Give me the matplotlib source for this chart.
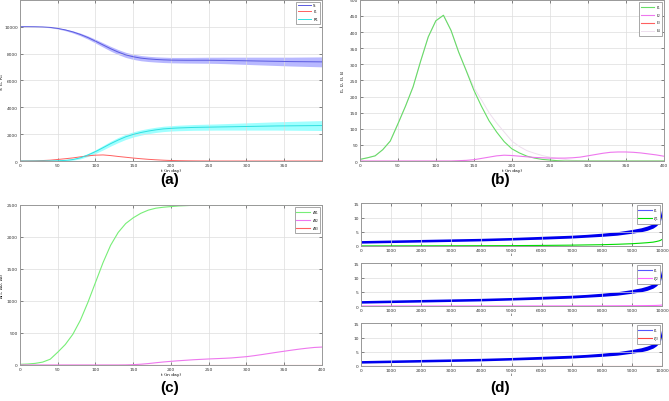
import numpy as np
import matplotlib.pyplot as plt
from matplotlib.lines import Line2D

# ---- panel (a): S, I, R with bands (t every 10 days) ----
t_a = list(range(0, 401, 10))
S_mean = [10000, 10000, 9995, 9980, 9945, 9870, 9760, 9610, 9420, 9190,
          8920, 8640, 8360, 8110, 7900, 7760, 7660, 7600, 7560, 7530,
          7510, 7505, 7500, 7500, 7500, 7500, 7495, 7490, 7480, 7470,
          7460, 7450, 7440, 7430, 7420, 7410, 7400, 7395, 7390, 7385, 7380]
S_half = [0, 5, 10, 15, 25, 40, 60, 80, 100, 120,
          140, 160, 175, 185, 190, 195, 195, 195, 195, 200,
          200, 205, 210, 215, 220, 225, 230, 240, 250, 260,
          270, 280, 290, 300, 310, 320, 330, 340, 350, 360, 370]
I_mean = [5, 10, 16, 35, 62, 115, 170, 230, 310, 385,
          435, 452, 405, 338, 280, 220, 170, 125, 90, 60,
          38, 25, 15, 9, 5, 3, 1, 0, 0, 0,
          0, 0, 0, 0, 0, 0, 0, 0, 0, 0, 0]
R_mean = [0, 0, 2, 5, 10, 20, 45, 110, 240, 450,
          700, 990, 1290, 1560, 1800, 1980, 2120, 2230, 2320, 2390,
          2430, 2460, 2480, 2500, 2510, 2520, 2530, 2540, 2550, 2560,
          2570, 2580, 2590, 2600, 2610, 2615, 2620, 2625, 2630, 2635, 2640]
R_half = [0, 0, 2, 4, 8, 15, 30, 50, 80, 110,
          140, 165, 180, 190, 195, 195, 195, 195, 195, 200,
          200, 205, 210, 215, 220, 225, 230, 240, 250, 260,
          270, 280, 290, 300, 310, 320, 330, 340, 350, 360, 370]

# ---- panel (b): I1..I4 ----
I1 = I_mean
I2 = [0, 0, 0, 0, 0, 0, 0, 0, 0, 0,
      0, 0, 0, 1, 2, 4, 8, 12, 16, 18,
      17, 15, 13, 11, 10, 9, 9, 9, 10, 12,
      16, 20, 24, 27, 28, 28, 27, 25, 22, 19, 15]
I3 = [0] * 41
I4 = [5, 10, 16, 35, 62, 115, 170, 230, 310, 385,
      435, 452, 405, 338, 282, 228, 190, 150, 118, 90,
      62, 45, 32, 24, 17, 12, 8, 5, 2, 1,
      0, 0, 0, 0, 0, 0, 0, 0, 0, 0, 0]

# ---- panel (c): cumulative dI1..dI3 ----
dI1 = [10, 15, 25, 45, 90, 200, 320, 480, 700, 980,
       1290, 1600, 1870, 2070, 2210, 2300, 2370, 2420, 2450, 2465,
       2475, 2485, 2490, 2495, 2498, 2500, 2500, 2500, 2500, 2500,
       2500, 2500, 2500, 2500, 2500, 2500, 2500, 2500, 2500, 2500, 2500]
dI2 = [0, 0, 0, 0, 0, 0, 0, 0, 0, 0,
       0, 0, 0, 0, 1, 5, 12, 22, 35, 47,
       57, 66, 74, 82, 88, 94, 99, 104, 110, 120,
       130, 145, 162, 180, 198, 215, 232, 248, 262, 274, 280]
dI3 = [0] * 41

# ---- panel (d): noisy I envelope and second series ----
i_d = [0, 1000, 2000, 3000, 4000, 5000, 6000, 7000, 7500, 8000,
       8500, 9000, 9300, 9500, 9700, 9800, 9900, 9950, 10000]
I_low = [1.0, 1.2, 1.4, 1.6, 1.8, 2.1, 2.4, 2.8, 3.1, 3.4,
         3.8, 4.5, 5.0, 5.5, 6.3, 7.0, 8.0, 9.0, 11.0]
I_high = [1.9, 2.1, 2.3, 2.5, 2.7, 3.0, 3.4, 3.8, 4.1, 4.5,
          5.0, 5.8, 6.4, 7.0, 7.8, 8.6, 9.8, 11.0, 13.5]
xi1 = [0.02, 0.03, 0.05, 0.07, 0.1, 0.13, 0.2, 0.3, 0.38, 0.45,
       0.6, 0.8, 1.0, 1.15, 1.35, 1.55, 1.8, 2.0, 2.3]
xi2 = [0, 0, 0, 0, 0.01, 0.01, 0.02, 0.03, 0.04, 0.05,
       0.07, 0.1, 0.13, 0.15, 0.18, 0.2, 0.25, 0.28, 0.35]
xi3 = [0] * len(i_d)

TS = 3.2  # tiny tick font like the reference


def style(ax, xlim, ylim, xticks, yticks):
    ax.set_xlim(*xlim)
    ax.set_ylim(*ylim)
    ax.set_xticks(xticks)
    ax.set_yticks(yticks)
    ax.tick_params(direction='in', labelsize=TS, length=2, width=0.4,
                   pad=1.5, colors='#333333', top=True, right=True)
    ax.grid(True, color='#dddddd', lw=0.5)
    for sp in ax.spines.values():
        sp.set_color('#999999')
        sp.set_linewidth(0.7)


def leg(ax, handles=None, labels=None):
    kw = dict(loc='upper right', fontsize=2.8, handlelength=3.5,
              borderpad=0.3, labelspacing=0.1, fancybox=False,
              framealpha=1, handletextpad=0.4)
    if handles is None:
        lg = ax.legend(**kw)
    else:
        lg = ax.legend(handles, labels, **kw)
    lg.get_frame().set_edgecolor('#999999')
    lg.get_frame().set_linewidth(0.6)


def ylab(ax, s, x=-0.045):
    ax.set_ylabel(s, fontsize=TS)
    ax.yaxis.set_label_coords(x, 0.5)


fig = plt.figure(figsize=(6.69, 4.02), dpi=100)
fig.patch.set_facecolor('white')
t = np.array(t_a)

# (a)
ax = fig.add_axes([0.0299, 0.597, 0.4514, 0.401])
S_mean_a, S_half_a = np.array(S_mean), np.array(S_half)
R_mean_a, R_half_a = np.array(R_mean), np.array(R_half)
ax.fill_between(t, S_mean_a - S_half_a, S_mean_a + S_half_a, color='#b8b8ff', lw=0)
ax.fill_between(t, R_mean_a - R_half_a, R_mean_a + R_half_a, color='#a0ffff', lw=0)
ax.plot(t, S_mean, color='#5a5ae0', lw=0.7, label='S')
ax.plot(t, I_mean, color='#ff6060', lw=0.7, label='I$_1$')
ax.plot(t, R_mean, color='#30e0e0', lw=0.7, label='R$_1$')
style(ax, (0, 400), (0, 12000), range(0, 351, 50), range(0, 10001, 2000))
ax.set_xlabel('t (in day)', fontsize=TS, labelpad=1)
ylab(ax, 'S, I$_1$, R$_1$')
leg(ax)

# (b)
ax = fig.add_axes([0.538, 0.597, 0.454, 0.401])
ax.plot(t, I4, color='#eedeee', lw=0.7, label='I$_4$')
ax.plot(t, I1, color='#66dd66', lw=0.8, label='I$_1$')
ax.plot(t, I2, color='#ee77ee', lw=0.8, label='I$_2$')
ax.plot(t, I3, color='#ff6060', lw=0.8, label='I$_3$')
style(ax, (0, 400), (0, 500), range(0, 401, 50), range(0, 501, 50))
ax.set_xlabel('t (in day)', fontsize=TS, labelpad=1)
ylab(ax, 'I$_1$, I$_2$, I$_3$, I$_4$', -0.043)
h, l = ax.get_legend_handles_labels()
leg(ax, [h[1], h[2], h[3], h[0]], [l[1], l[2], l[3], l[0]])

# (c)
ax = fig.add_axes([0.0299, 0.0896, 0.4514, 0.398])
ax.plot(t, dI1, color='#77ee77', lw=0.8, label='$\\Delta$I$_1$')
ax.plot(t, dI2, color='#ee77ee', lw=0.8, label='$\\Delta$I$_2$')
ax.plot(t, dI3, color='#ff6060', lw=0.8, label='$\\Delta$I$_3$')
style(ax, (0, 400), (0, 2500), range(0, 401, 50), range(0, 2501, 500))
ax.set_xlabel('t (in day)', fontsize=TS, labelpad=1)
ylab(ax, '$\\Delta$I$_1$, $\\Delta$I$_2$, $\\Delta$I$_3$')
leg(ax)

# (d)
rows = [(0.3856, xi1, '#00dd00', '$\\xi_1$'),
        (0.2363, xi2, '#ff66ff', '$\\xi_2$'),
        (0.0871, xi3, '#ff4444', '$\\xi_3$')]
for bottom, xi, col, lab in rows:
    ax = fig.add_axes([0.5396, bottom, 0.4500, 0.106])
    ax.fill_between(i_d, I_low, I_high, color='#0000ee', lw=0)
    ax.plot(i_d, xi, color=col, lw=0.8)
    style(ax, (0, 10000), (0, 15), range(0, 10001, 1000), range(0, 16, 5))
    ax.set_xlabel('i', fontsize=TS, labelpad=0)
    leg(ax, [Line2D([], [], color='#5555ff', lw=0.8),
             Line2D([], [], color=col, lw=0.8)], ['I$_1$', lab])

for x, y, s in [(0.254, 0.552, '(a)'), (0.747, 0.552, '(b)'),
                (0.254, 0.035, '(c)'), (0.747, 0.035, '(d)')]:
    fig.text(x, y, s, ha='center', va='center', fontsize=11, fontweight='bold',
             family='Liberation Sans')

fig.savefig('out.png', dpi=100)
